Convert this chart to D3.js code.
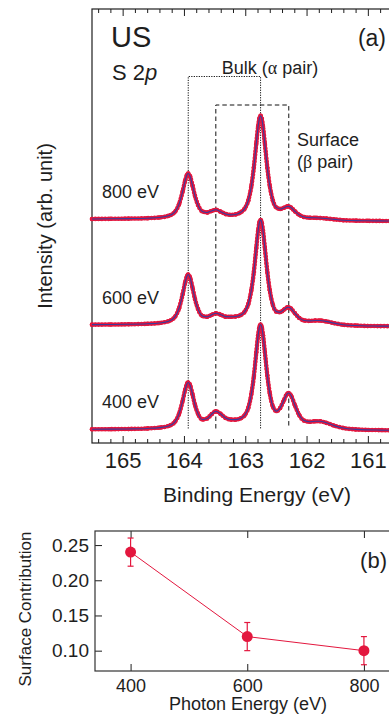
<!DOCTYPE html>
<html>
<head>
<meta charset="utf-8">
<script src="https://cdn.jsdelivr.net/npm/d3@7"></script>
<style>
  html, body { margin: 0; padding: 0; background: #fff; overflow: hidden; }
  svg { display: block; font-family: "Liberation Sans", Arial, Helvetica, sans-serif; }
</style>
</head>
<body>
<script>
// ---- panel (a): S 2p spectra, intensity normalised to the main peak ----
const bindingEnergy = [165.5, 165.2, 164.9, 164.6, 164.4, 164.25, 164.15, 164.08, 164.02, 163.98,
  163.95, 163.93, 163.90, 163.86, 163.82, 163.77, 163.70, 163.62, 163.55, 163.48,
  163.40, 163.32, 163.24, 163.16, 163.08, 163.01, 162.95, 162.90, 162.86, 162.82,
  162.79, 162.77, 162.75, 162.73, 162.71, 162.68, 162.64, 162.60, 162.55, 162.49,
  162.43, 162.37, 162.32, 162.29, 162.25, 162.19, 162.12, 162.04, 161.95, 161.86,
  161.78, 161.68, 161.55, 161.40, 161.20, 161.00, 160.80, 160.55]
const spectrum800 = [.023, .024, .026, .030, .037, .053, .088, .164, .289, .389,
  .445, .456, .430, .341, .243, .155, .095, .085, .099, .110,
  .092, .070, .062, .066, .084, .121, .199, .337, .514, .742,
  .905, .981, 1.008, .980, .903, .740, .513, .338, .200, .131,
  .118, .129, .142, .143, .130, .096, .062, .041, .035, .034,
  .032, .027, .019, .011, .007, .005, .004, .003]
const spectrum600 = [.019, .020, .022, .027, .035, .052, .091, .175, .312, .422,
  .484, .497, .468, .370, .263, .167, .102, .094, .112, .127,
  .114, .095, .094, .097, .109, .142, .216, .350, .520, .750,
  .915, .992, 1.019, .991, .914, .750, .522, .346, .209, .143,
  .138, .161, .182, .185, .170, .127, .083, .059, .055, .058,
  .058, .050, .033, .018, .010, .006, .005, .004]
const spectrum400 = [.015, .016, .018, .023, .031, .047, .084, .162, .290, .392,
  .450, .462, .436, .347, .248, .162, .109, .119, .158, .187,
  .161, .123, .108, .107, .118, .149, .220, .353, .519, .747,
  .910, .987, 1.015, .988, .913, .752, .529, .360, .233, .188,
  .219, .291, .351, .361, .334, .244, .151, .098, .087, .091,
  .091, .077, .050, .027, .014, .009, .007, .005]
const spectrumLabels = ['800 eV', '600 eV', '400 eV']
const stackOffset = [2, 0.995, 0]
const bulkPair = [163.93, 162.75]
const surfacePair = [163.48, 162.29]
const energyTicks = [165, 164, 163, 162, 161]

// ---- panel (b): surface contribution ----
const photonEnergy = [400, 600, 800]
const surfaceContribution = [0.24, 0.12, 0.10]
const contributionError = [0.02, 0.02, 0.02]
const photonTicks = [400, 600, 800]
const contributionTicks = [0.10, 0.15, 0.20, 0.25]

const ink = '#1e1e1e'
const red = '#e3173e'
const blue = '#3b3c9c'

const svg = d3.select('body').append('svg')
  .attr('width', 389)
  .attr('height', 716)

function styleAxis(g, size) {
  g.attr('font-family', null).attr('font-size', size).attr('color', ink)
  g.select('.domain').remove()
  g.selectAll('text').attr('fill', ink)
}

// ================= panel (a) =================
const a = {left: 92, right: 398.5, top: 9, bottom: 443}
const x = d3.scaleLinear().domain([165.5, 160.5]).range([a.left, a.right])
const y = d3.scaleLinear().domain([-0.116, 4.027]).range([a.bottom, a.top])

const minorE = d3.range(160.6, 165.5, 0.2).map(v => +v.toFixed(1)).filter(v => !energyTicks.includes(v))

// ticks
svg.append('g').attr('transform', `translate(0,${a.bottom})`)
  .call(d3.axisBottom(x).tickValues(minorE).tickSize(-4).tickFormat(''))
  .call(g => styleAxis(g, 21))
svg.append('g').attr('transform', `translate(0,${a.bottom})`)
  .call(d3.axisBottom(x).tickValues(energyTicks).tickSize(-7).tickPadding(9).tickFormat(d3.format('d')))
  .call(g => styleAxis(g, 22))
svg.append('g').attr('transform', `translate(0,${a.top})`)
  .call(d3.axisTop(x).tickValues(minorE).tickSize(-4).tickFormat(''))
  .call(g => styleAxis(g, 21))
svg.append('g').attr('transform', `translate(0,${a.top})`)
  .call(d3.axisTop(x).tickValues(energyTicks).tickSize(-7).tickFormat(''))
  .call(g => styleAxis(g, 21))

svg.append('rect')
  .attr('x', a.left).attr('y', a.top)
  .attr('width', a.right - a.left).attr('height', a.bottom - a.top)
  .attr('fill', 'none').attr('stroke', ink).attr('stroke-width', 1.2)

// bulk / surface boxes
const boxBottom = 428.5
function pairBox(pair, topY, dash) {
  const [e1, e2] = pair
  svg.append('path')
    .attr('d', `M${x(e1)},${boxBottom}V${topY}H${x(e2)}V${boxBottom}`)
    .attr('fill', 'none').attr('stroke', '#111').attr('stroke-width', 1)
    .attr('stroke-dasharray', dash)
}
pairBox(bulkPair, 76.5, '1.2,1.3')
pairBox(surfacePair, 105, '4.5,3')

// spectra: red data band with dots, blue fit line on top
spectrumLabels.forEach((label, k) => {
  const values = [spectrum800, spectrum600, spectrum400][k]
  const off = stackOffset[k]
  const line = d3.line()
    .x((d, i) => x(bindingEnergy[i]))
    .y(d => y(d + off))
    .curve(d3.curveMonotoneX)
  const g = svg.append('g')
  g.append('path').attr('d', line(values))
    .attr('fill', 'none').attr('stroke', red).attr('stroke-width', 3.6).attr('stroke-opacity', 0.85)
  g.append('path').attr('d', line(values))
    .attr('fill', 'none').attr('stroke', red).attr('stroke-width', 4.6)
    .attr('stroke-linecap', 'round').attr('stroke-dasharray', '0,3.3')
  g.selectAll('circle').data(values).join('circle')
    .attr('cx', (d, i) => x(bindingEnergy[i]))
    .attr('cy', d => y(d + off))
    .attr('r', 2.2).attr('fill', red)
  g.append('path').attr('d', line(values))
    .attr('fill', 'none').attr('stroke', blue).attr('stroke-width', 1.1)

  svg.append('text')
    .attr('x', 102).attr('y', y(off) - 23)
    .attr('font-size', 18).attr('fill', ink)
    .text(label)
})

// panel (a) texts
svg.append('text').attr('x', 111).attr('y', 47)
  .attr('font-size', 29).attr('fill', ink).text('US')
const s2p = svg.append('text').attr('x', 112).attr('y', 80)
  .attr('font-size', 22).attr('fill', ink)
s2p.append('tspan').text('S 2')
s2p.append('tspan').attr('font-style', 'italic').text('p')
svg.append('text').attr('x', 386).attr('y', 46)
  .attr('font-size', 23).attr('fill', ink).attr('text-anchor', 'end').text('(a)')

const bulk = svg.append('text').attr('x', 270).attr('y', 74)
  .attr('font-size', 18).attr('fill', ink).attr('text-anchor', 'middle')
bulk.append('tspan').text('Bulk (')
bulk.append('tspan').attr('font-family', '"Liberation Serif", "DejaVu Serif", serif').text('α')
bulk.append('tspan').text(' pair)')

svg.append('text').attr('x', 297).attr('y', 146)
  .attr('font-size', 18).attr('fill', ink).text('Surface')
const beta = svg.append('text').attr('x', 297).attr('y', 168)
  .attr('font-size', 18).attr('fill', ink)
beta.append('tspan').text('(')
beta.append('tspan').attr('font-family', '"Liberation Serif", "DejaVu Serif", serif').text('β')
beta.append('tspan').text(' pair)')

svg.append('text')
  .attr('transform', 'translate(52,226) rotate(-90)')
  .attr('font-size', 20).attr('fill', ink).attr('text-anchor', 'middle')
  .text('Intensity (arb. unit)')
svg.append('text').attr('x', 257).attr('y', 502)
  .attr('font-size', 21).attr('fill', ink).attr('text-anchor', 'middle')
  .text('Binding Energy (eV)')

// ================= panel (b) =================
const b = {left: 95, right: 396, top: 531, bottom: 671}
const px = d3.scaleLinear().domain([339, 855]).range([b.left, b.right])
const py = d3.scaleLinear().domain([0.0711, 0.27]).range([b.bottom, b.top])

svg.append('g').attr('transform', `translate(0,${b.bottom})`)
  .call(d3.axisBottom(px).tickValues(photonTicks).tickSize(-7).tickPadding(8).tickFormat(d3.format('d')))
  .call(g => styleAxis(g, 18))
svg.append('g').attr('transform', `translate(0,${b.top})`)
  .call(d3.axisTop(px).tickValues(photonTicks).tickSize(-7).tickFormat(''))
  .call(g => styleAxis(g, 18))
svg.append('g').attr('transform', `translate(${b.left},0)`)
  .call(d3.axisLeft(py).tickValues(contributionTicks).tickSize(-7).tickPadding(6).tickFormat(d3.format('.2f')))
  .call(g => styleAxis(g, 19))

svg.append('rect')
  .attr('x', b.left).attr('y', b.top)
  .attr('width', b.right - b.left).attr('height', b.bottom - b.top)
  .attr('fill', 'none').attr('stroke', '#333').attr('stroke-width', 1.2)

const pts = photonEnergy.map((e, i) => ({e, v: surfaceContribution[i], err: contributionError[i]}))
svg.append('path')
  .attr('d', d3.line().x(d => px(d.e)).y(d => py(d.v))(pts))
  .attr('fill', 'none').attr('stroke', red).attr('stroke-width', 1)
const eb = svg.append('g').attr('stroke', red).attr('stroke-width', 1.2)
pts.forEach(d => {
  eb.append('line').attr('x1', px(d.e)).attr('x2', px(d.e))
    .attr('y1', py(d.v - d.err)).attr('y2', py(d.v + d.err))
  ;[d.v - d.err, d.v + d.err].forEach(v => {
    eb.append('line').attr('x1', px(d.e) - 3).attr('x2', px(d.e) + 3)
      .attr('y1', py(v)).attr('y2', py(v))
  })
})
svg.selectAll('circle.pt').data(pts).join('circle')
  .attr('class', 'pt')
  .attr('cx', d => px(d.e)).attr('cy', d => py(d.v))
  .attr('r', 5.5).attr('fill', red)

svg.append('text').attr('x', 387).attr('y', 568)
  .attr('font-size', 22).attr('fill', ink).attr('text-anchor', 'end').text('(b)')
svg.append('text')
  .attr('transform', 'translate(31,609) rotate(-90)')
  .attr('font-size', 17).attr('fill', ink).attr('text-anchor', 'middle')
  .text('Surface Contribution')
svg.append('text').attr('x', 248).attr('y', 710)
  .attr('font-size', 18).attr('fill', ink).attr('text-anchor', 'middle')
  .text('Photon Energy (eV)')
</script>
</body>
</html>
